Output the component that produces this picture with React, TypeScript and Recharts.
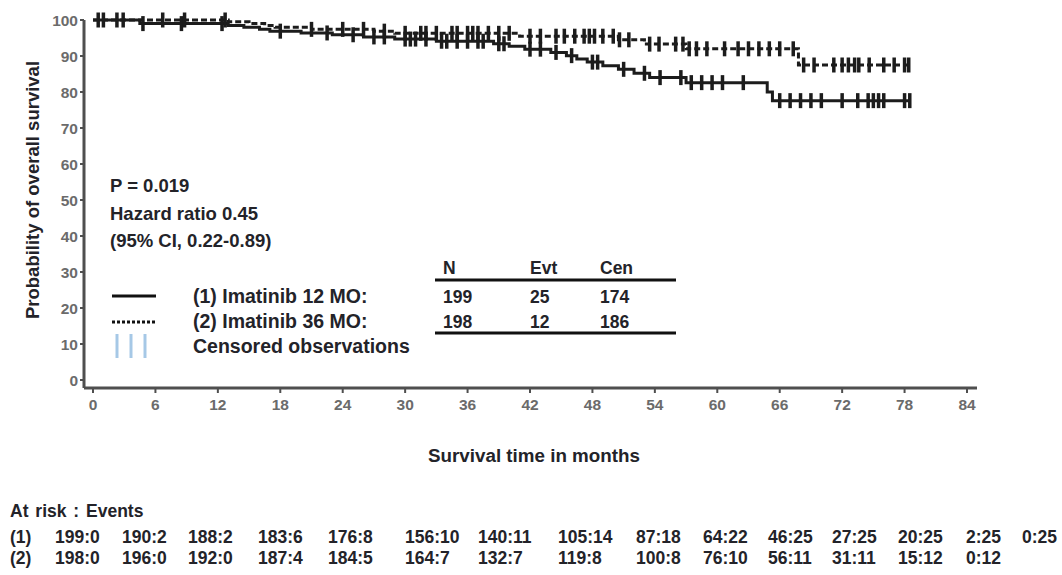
import React from 'react';
import { ComposedChart, Line, XAxis, YAxis } from 'recharts';

// ---------- data ----------
const xTicks = [0, 6, 12, 18, 24, 30, 36, 42, 48, 54, 60, 66, 72, 78, 84];
const yTicks = [0, 10, 20, 30, 40, 50, 60, 70, 80, 90, 100];

// Group 1: Imatinib 12 MO (solid)
const stepTimes1 = [4.5, 13, 14.5, 16, 17, 20, 23, 26, 29, 33, 38.5, 40, 41.5, 44, 45.5, 46.5, 47.5, 49, 50.5, 52, 53.5, 57, 64.8, 65.3];
const stepSurv1 = [99.0, 98.5, 98.0, 97.4, 96.9, 96.4, 95.9, 95.3, 94.7, 94.1, 93.4, 92.7, 91.9, 91.0, 90.1, 89.2, 88.3, 87.3, 86.3, 85.2, 84.0, 82.6, 80.0, 77.6];
const censor1 = [0.5, 2.3, 4.8, 8.5, 12.4, 18, 22.5, 25, 27, 28, 30, 30.5, 31, 32, 33.5, 34, 35, 36, 37, 37.5, 39, 39.5, 42, 43, 44.5, 46, 48, 48.5, 51, 53, 54.5, 56.5, 57.5, 58.5, 59.5, 60.5, 62.5, 66, 67, 68, 69, 70, 72, 73.5, 74.5, 75, 75.5, 76, 78, 78.5];

// Group 2: Imatinib 36 MO (dotted)
const stepTimes2 = [13, 15, 16.5, 17.5, 21, 27, 29, 41, 50.5, 53, 57, 67.8];
const stepSurv2 = [99.5, 99.0, 98.5, 98.0, 97.4, 96.9, 96.3, 95.5, 94.5, 93.3, 92.0, 87.5];
const censor2 = [1, 2.9, 6.7, 8.8, 12.7, 21, 24, 26, 28, 30, 31.5, 32, 33, 34.5, 35, 36, 36.5, 37, 38, 39, 40, 42, 43, 44.5, 45.3, 46.3, 47.2, 47.7, 48.2, 49, 50, 50.6, 51.5, 53.5, 54.4, 56, 56.7, 57.3, 58, 59, 60.7, 62, 63, 64, 65, 66, 67.3, 68.3, 69.3, 71.2, 72, 72.6, 73.2, 73.6, 74.6, 76, 77, 78, 78.4];

// At-risk : events table
const atRisk1 = ['199:0', '190:2', '188:2', '183:6', '176:8', '156:10', '140:11', '105:14', '87:18', '64:22', '46:25', '27:25', '20:25', '2:25', '0:25'];
const atRisk2 = ['198:0', '196:0', '192:0', '187:4', '184:5', '164:7', '132:7', '119:8', '100:8', '76:10', '56:11', '31:11', '15:12', '0:12'];

// Summary table
const tableHeaders = ['N', 'Evt', 'Cen'];
const tableRow1 = ['199', '25', '174'];
const tableRow2 = ['198', '12', '186'];
const groupLabels = ['(1) Imatinib 12 MO:', '(2) Imatinib 36 MO:', 'Censored observations'];
const statLines = ['P = 0.019', 'Hazard ratio 0.45', '(95% CI, 0.22-0.89)'];

// ---------- layout ----------
const W = 1062;
const H = 575;
const FONT = '"Liberation Sans", Arial, sans-serif';
const TEXT = '#232329';
const riskX = [55, 122, 188, 258, 328, 405, 478, 558, 636, 703, 768, 832, 898, 966, 1022];
const tableX = [443, 530, 600];

type Pt = { t: number; s: number; c: boolean };

function buildSeries(times: number[], surv: number[], cens: number[]): Pt[] {
  const levelAt = (t: number) => {
    let lv = 100;
    for (let i = 0; i < times.length; i++) if (times[i] <= t) lv = surv[i];
    return lv;
  };
  const pts: Pt[] = [{ t: 0, s: 100, c: false }];
  times.forEach((t, i) => pts.push({ t, s: surv[i], c: false }));
  cens.forEach((t) => pts.push({ t, s: levelAt(t), c: true }));
  pts.sort((a, b) => a.t - b.t || (a.c ? 1 : -1));
  return pts;
}

const series1 = buildSeries(stepTimes1, stepSurv1, censor1);
const series2 = buildSeries(stepTimes2, stepSurv2, censor2);

const CensorDot = (props: any) => {
  const { cx, cy, payload, index } = props;
  if (!payload || !payload.c || cx == null || cy == null) return <g key={`n${index}`} />;
  return <rect key={`c${index}`} x={cx - 1.75} y={cy - 7.5} width={3.5} height={15} fill="#1c1c1c" />;
};

const tickStyle = { fill: '#6b6b6b', fontSize: 15.5, fontWeight: 700, fontFamily: FONT };

export default function App() {
  return (
    <div style={{ position: 'absolute', left: 0, top: 0, width: W, height: H, background: '#fff' }}>
      <ComposedChart width={W} height={H} margin={{ top: 20, right: 85, bottom: 157, left: 0 }}>
        <XAxis
          type="number"
          dataKey="t"
          domain={[0, 84]}
          ticks={xTicks}
          allowDuplicatedCategory={false}
          padding={{ left: 9, right: 10 }}
          axisLine={{ stroke: '#4f4f4f', strokeWidth: 3 }}
          tickLine={{ stroke: '#4f4f4f', strokeWidth: 2 }}
          tickSize={5}
          tickMargin={6}
          tick={tickStyle}
          height={30}
        />
        <YAxis
          type="number"
          dataKey="s"
          domain={[0, 100]}
          ticks={yTicks}
          width={84}
          padding={{ top: 0, bottom: 8 }}
          axisLine={{ stroke: '#4f4f4f', strokeWidth: 3 }}
          tickLine={{ stroke: '#4f4f4f', strokeWidth: 2 }}
          tickSize={4}
          tick={tickStyle}
        />
        <Line
          data={series1}
          dataKey="s"
          type="stepAfter"
          stroke="#1c1c1c"
          strokeWidth={3}
          dot={CensorDot}
          activeDot={false}
          isAnimationActive={false}
        />
        <Line
          data={series2}
          dataKey="s"
          type="stepAfter"
          stroke="#1c1c1c"
          strokeWidth={3}
          strokeDasharray="6 3"
          dot={CensorDot}
          activeDot={false}
          isAnimationActive={false}
        />
      </ComposedChart>

      <svg
        width={W}
        height={H}
        style={{ position: 'absolute', left: 0, top: 0, pointerEvents: 'none' }}
        fontFamily={FONT}
        fontWeight={700}
        fill={TEXT}
      >
        {/* y axis title */}
        <text x={39} y={190} fontSize={18.5} textAnchor="middle" transform="rotate(-90 39 190)">
          Probability of overall survival
        </text>
        {/* x axis title */}
        <text x={534} y={462} fontSize={18.8} textAnchor="middle">
          Survival time in months
        </text>

        {/* stats */}
        {statLines.map((s, i) => (
          <text key={s} x={110} y={192 + i * 27.5} fontSize={18.5}>
            {s}
          </text>
        ))}

        {/* legend symbols */}
        <line x1={112} x2={156} y1={296} y2={296} stroke="#111" strokeWidth={3} />
        <line x1={112} x2={156} y1={322} y2={322} stroke="#111" strokeWidth={3} strokeDasharray="3 2" />
        {[117, 131, 145].map((x) => (
          <line key={x} x1={x} x2={x} y1={334} y2={358} stroke="#a6c8e6" strokeWidth={3} />
        ))}
        {groupLabels.map((g, i) => (
          <text key={g} x={193} y={303 + i * 25} fontSize={19.5}>
            {g}
          </text>
        ))}

        {/* summary table */}
        {tableHeaders.map((h, i) => (
          <text key={h} x={tableX[i]} y={274} fontSize={17.5}>
            {h}
          </text>
        ))}
        <line x1={435} x2={676} y1={280} y2={280} stroke="#111" strokeWidth={3} />
        {tableRow1.map((v, i) => (
          <text key={`r1${i}`} x={tableX[i]} y={303} fontSize={17.5}>
            {v}
          </text>
        ))}
        {tableRow2.map((v, i) => (
          <text key={`r2${i}`} x={tableX[i]} y={328} fontSize={17.5}>
            {v}
          </text>
        ))}
        <line x1={435} x2={676} y1={333} y2={333} stroke="#111" strokeWidth={3} />

        {/* at risk */}
        <text x={10} y={517} fontSize={17.5} wordSpacing={2}>
          At risk : Events
        </text>
        <text x={10} y={543} fontSize={17.5}>(1)</text>
        <text x={10} y={564} fontSize={17.5}>(2)</text>
        {atRisk1.map((v, i) => (
          <text key={`a1${i}`} x={riskX[i]} y={543} fontSize={17.5}>
            {v}
          </text>
        ))}
        {atRisk2.map((v, i) => (
          <text key={`a2${i}`} x={riskX[i]} y={564} fontSize={17.5}>
            {v}
          </text>
        ))}
      </svg>
    </div>
  );
}
